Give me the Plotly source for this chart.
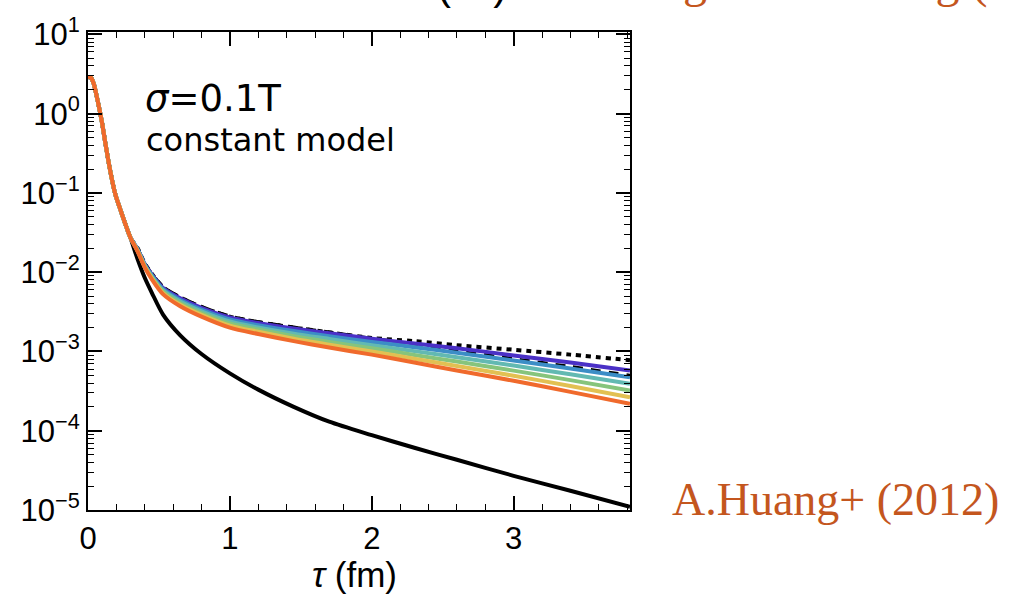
import plotly.graph_objects as go

# ---- data ----
TAU_EARLY = [0.0, 0.02, 0.04, 0.06, 0.08, 0.10, 0.12, 0.15, 0.19, 0.22, 0.26, 0.30]
G_EARLY = [2.9, 2.85, 2.4, 1.7, 1.15, 0.75, 0.45, 0.22, 0.10, 0.068, 0.042, 0.027]

TAU_LATE = [0.35, 0.40, 0.45, 0.53, 0.65, 0.80, 1.0, 1.2, 1.45, 1.7, 2.0, 2.3, 2.6, 3.0, 3.4, 3.82]

free_black = [0.0145, 0.0085, 0.0055, 0.0029, 0.0016, 0.00093, 0.00053, 0.00033, 0.00020,
              0.000130, 0.000088, 0.000061, 0.000043, 0.000027, 0.0000175, 0.000011]
dotted_black = [0.0200, 0.0129, 0.00955, 0.00646, 0.00479, 0.00363, 0.00275, 0.00234, 0.00200,
                0.00174, 0.00148, 0.00135, 0.00120, 0.00105, 0.000912, 0.000776]
dashed_black = [0.0200, 0.0130, 0.00965, 0.00656, 0.00489, 0.00370, 0.00280, 0.00238, 0.00203,
                0.00176, 0.00147, 0.00124, 0.00102, 0.000813, 0.000646, 0.000501]
purple = [0.0195, 0.0126, 0.00933, 0.00631, 0.00468, 0.00355, 0.00269, 0.00229, 0.00195,
          0.00170, 0.00145, 0.00126, 0.00110, 0.000891, 0.000724, 0.000575]
blue = [0.01923, 0.01236, 0.00908, 0.00608, 0.00447, 0.00337, 0.00254, 0.00215, 0.00181,
        0.00156, 0.00132, 0.00113, 0.000964, 0.000769, 0.000611, 0.000474]
teal = [0.01897, 0.01213, 0.00883, 0.00586, 0.00427, 0.00321, 0.00239, 0.00201, 0.00168,
        0.00144, 0.00120, 0.00101, 0.000847, 0.000664, 0.000515, 0.000391]
green = [0.01871, 0.01191, 0.00859, 0.00565, 0.00407, 0.00305, 0.00225, 0.00189, 0.00156,
         0.00132, 0.00110, 0.000904, 0.000745, 0.000573, 0.000435, 0.000322]
yellow = [0.01845, 0.01169, 0.00836, 0.00545, 0.00389, 0.00290, 0.00212, 0.00177, 0.00145,
          0.00122, 0.00100, 0.000809, 0.000655, 0.000494, 0.000366, 0.000265]
orange = [0.0182, 0.0115, 0.00813, 0.00525, 0.00372, 0.00275, 0.00200, 0.00166, 0.00135,
          0.00112, 0.000912, 0.000724, 0.000575, 0.000427, 0.000309, 0.000219]

X_TICKS = [0, 1, 2, 3]
Y_TICKS = [1e-5, 1e-4, 1e-3, 1e-2, 1e-1, 1e0, 1e1]
Y_TICK_TEXT = ["10<sup>−5</sup>", "10<sup>−4</sup>", "10<sup>−3</sup>", "10<sup>−2</sup>",
               "10<sup>−1</sup>", "10<sup>0</sup>", "10<sup>1</sup>"]

tau = TAU_EARLY + TAU_LATE

fig = go.Figure()

def add(vals, color, width, dash="solid"):
    fig.add_trace(go.Scatter(x=tau, y=G_EARLY + vals, mode="lines",
                             line=dict(color=color, width=width, dash=dash,
                                       shape="spline", smoothing=0.8),
                             showlegend=False, hoverinfo="skip"))

add(free_black, "black", 4)
add(dotted_black, "black", 4, "5px,5px")
add(dashed_black, "black", 3, "10px,8px")
add(purple, "#4A30C6", 4)
add(blue, "#3C8DC6", 4)
add(teal, "#62B9B2", 4)
add(green, "#86C47C", 4)
add(yellow, "#E2C052", 4)
add(orange, "#F06A2C", 4)

minor_y = [m * 10.0 ** e for e in range(-5, 1) for m in range(2, 10)]

axis_font = dict(family="Liberation Sans, Arial, sans-serif", size=31, color="black")

fig.update_layout(
    width=1018, height=596,
    margin=dict(l=88, r=388, t=30, b=86),
    paper_bgcolor="white", plot_bgcolor="white",
    xaxis=dict(range=[0, 3.82], tickvals=X_TICKS, ticks="inside", ticklen=14, tickwidth=1.5,
               tickcolor="black", showline=True, linecolor="black", linewidth=2, mirror="ticks",
               showgrid=False, zeroline=False, tickfont=axis_font,
               minor=dict(dtick=0.2, tick0=0, ticks="inside", ticklen=6, tickwidth=1.2,
                          tickcolor="black", showgrid=False)),
    yaxis=dict(type="log", range=[-5, 1.03], tickvals=Y_TICKS, ticktext=Y_TICK_TEXT,
               ticks="inside", ticklen=14, tickwidth=1.5, tickcolor="black",
               showline=True, linecolor="black", linewidth=2, mirror="ticks",
               showgrid=False, zeroline=False, tickfont=axis_font,
               minor=dict(tickmode="array", tickvals=minor_y, ticks="inside", ticklen=6,
                          tickwidth=1.2, tickcolor="black", showgrid=False)),
)

fig.add_annotation(text="<i>σ</i>=0.1T", xref="paper", yref="paper", x=0.1015, y=0.860,
                   xanchor="left", yanchor="middle", showarrow=False,
                   font=dict(family="DejaVu Sans", size=37, color="black"))
fig.add_annotation(text="constant model", xref="paper", yref="paper", x=0.104, y=0.775,
                   xanchor="left", yanchor="middle", showarrow=False,
                   font=dict(family="DejaVu Sans", size=32, color="black"))
fig.add_annotation(text="<i>τ</i> (fm)", xref="paper", yref="paper", x=0.4926, y=-0.1355,
                   xanchor="center", yanchor="middle", showarrow=False,
                   font=dict(family="Liberation Sans, Arial, sans-serif", size=35, color="black"))
fig.add_annotation(text="A.Huang+ (2012)", xref="paper", yref="paper", x=1.380, y=0.023,
                   xanchor="center", yanchor="middle", showarrow=False,
                   font=dict(family="Liberation Serif, Times New Roman, serif", size=46,
                             color="#C4561E"))
# partially cut-off texts at the top edge
fig.add_annotation(text="(τT)", xref="paper", yref="paper", x=0.7085, y=1.045,
                   xanchor="center", yanchor="bottom", showarrow=False,
                   font=dict(family="Liberation Sans, Arial, sans-serif", size=42, color="black"))
fig.add_annotation(text="Ding+ and&nbsp;&nbsp;&nbsp; Ding (", xref="paper", yref="paper",
                   x=0.962, y=1.045, xanchor="left", yanchor="bottom", showarrow=False,
                   font=dict(family="Liberation Serif, Times New Roman, serif", size=48,
                             color="#C4561E"))

fig.write_html("out.html")
